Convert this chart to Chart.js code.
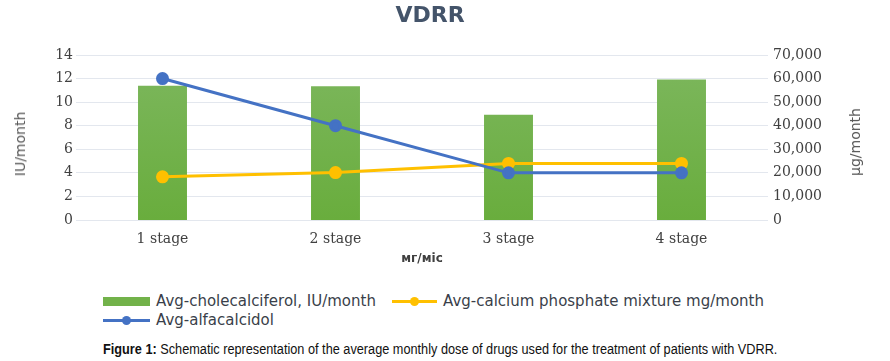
<!DOCTYPE html>
<html lang="en">
<head>
<meta charset="UTF-8">
<title>VDRR</title>
<script src="https://cdn.jsdelivr.net/npm/chart.js"></script>
<style>
  body { margin: 0; background: #fff; }
  #wrap { position: relative; width: 890px; height: 361px; overflow: hidden; }
  #chartBox { position: absolute; left: 0; top: 0; width: 890px; height: 268px; }
  #title { position: absolute; left: 330px; top: 2px; width: 200px; line-height: 26px; text-align: center;
           font: bold 22px "DejaVu Sans"; color: #44546a; }
  .axisTitle { position: absolute; transform: translate(-50%, -50%) rotate(-90deg);
               font: 14px "DejaVu Sans"; color: #595959; white-space: nowrap; }
  #leftTitle { left: 20px; top: 144px; }
  #rightTitle { left: 855px; top: 142px; }
  .legItem { position: absolute; height: 18px; }
  .legText { position: absolute; top: 0; line-height: 18px; font: 15px "DejaVu Sans"; color: #3a3f4a; white-space: nowrap; }
  #caption { position: absolute; left: 103px; top: 341px; line-height: 18px; font: 14px "Liberation Sans";
             color: #111; white-space: nowrap; transform-origin: left center; }
</style>
</head>
<body>
<div id="wrap">
  <div id="chartBox"><canvas id="vdrrChart"></canvas></div>
  <div id="title">VDRR</div>
  <div id="leftTitle" class="axisTitle">IU/month</div>
  <div id="rightTitle" class="axisTitle">µg/month</div>
  <div id="legend"></div>
  <div id="caption"><b>Figure 1:</b> Schematic representation of the average monthly dose of drugs used for the treatment of patients with VDRR.</div>
</div>
<script>
  // categories
  const stages = ['1 stage', '2 stage', '3 stage', '4 stage'];

  // series values
  const cholecalciferol = [57000, 56700, 44700, 59600];   // bars, right axis
  const calciumPhosphate = [18300, 20100, 24000, 24000];  // yellow line, right axis
  const alfacalcidol = [12, 8, 4, 4];                     // blue line, left axis

  // tick labels
  const leftTicks = [0, 2, 4, 6, 8, 10, 12, 14];
  const rightTicks = [0, 10000, 20000, 30000, 40000, 50000, 60000, 70000];

  const seriesNames = [
    'Avg-cholecalciferol, IU/month',
    'Avg-calcium phosphate mixture mg/month',
    'Avg-alfacalcidol'
  ];

  const green = '#72b24a';
  const yellow = '#ffc000';
  const blue = '#4472c4';

  function barGradient(context) {
    const chart = context.chart;
    const area = chart.chartArea;
    if (!area) return green;
    const g = chart.ctx.createLinearGradient(0, area.top, 0, area.bottom);
    g.addColorStop(0, '#7db75e');
    g.addColorStop(1, '#69ad3d');
    return g;
  }

  const tickFont = { family: 'DejaVu Serif', size: 14 };
  const tickColor = '#404040';

  const chart = new Chart(document.getElementById('vdrrChart'), {
    data: {
      labels: stages,
      datasets: [
        {
          type: 'bar',
          label: seriesNames[0],
          data: cholecalciferol,
          yAxisID: 'y1',
          backgroundColor: barGradient,
          barPercentage: 0.283,
          categoryPercentage: 1,
          order: 3
        },
        {
          type: 'line',
          label: seriesNames[1],
          data: calciumPhosphate,
          yAxisID: 'y1',
          borderColor: yellow,
          backgroundColor: yellow,
          borderWidth: 3,
          pointRadius: 5,
          pointHoverRadius: 5,
          tension: 0,
          order: 2
        },
        {
          type: 'line',
          label: seriesNames[2],
          data: alfacalcidol,
          yAxisID: 'y',
          borderColor: blue,
          backgroundColor: blue,
          borderWidth: 3,
          pointRadius: 5,
          pointHoverRadius: 5,
          tension: 0,
          order: 1
        }
      ]
    },
    options: {
      responsive: true,
      maintainAspectRatio: false,
      animation: false,
      layout: { padding: { top: 55, left: 0, right: 0, bottom: 0 } },
      plugins: {
        legend: { display: false },
        title: { display: false },
        tooltip: { enabled: false }
      },
      scales: {
        x: {
          grid: { display: false },
          border: { display: false },
          ticks: { font: tickFont, color: tickColor, padding: 3 },
          title: {
            display: true,
            text: 'мг/міс',
            font: { family: 'DejaVu Sans', size: 12, weight: 'bold' },
            color: '#404040',
            padding: { top: 0, bottom: 2 }
          },
          afterFit: s => { s.height = 48; }
        },
        y: {
          position: 'left',
          min: leftTicks[0],
          max: leftTicks[leftTicks.length - 1],
          ticks: { stepSize: leftTicks[1] - leftTicks[0], font: tickFont, color: tickColor, padding: 3 },
          grid: { color: '#e3e7ee', drawTicks: false },
          border: { display: false },
          afterFit: s => { s.width = 76; }
        },
        y1: {
          position: 'right',
          min: rightTicks[0],
          max: rightTicks[rightTicks.length - 1],
          ticks: { stepSize: rightTicks[1] - rightTicks[0], font: tickFont, color: tickColor, padding: 5 },
          grid: { display: false, drawTicks: false },
          border: { display: false },
          afterFit: s => { s.width = 122; }
        }
      }
    }
  });

  // legend built from the datasets, laid out like the original
  const legendSpots = [
    { x: 103, y: 301, w: 47 },
    { x: 392, y: 301, w: 45 },
    { x: 103, y: 320, w: 47 }
  ];
  const legend = document.getElementById('legend');
  chart.data.datasets.forEach((ds, i) => {
    const spot = legendSpots[i];
    const item = document.createElement('div');
    item.className = 'legItem';
    item.style.left = spot.x + 'px';
    item.style.top = (spot.y - 9) + 'px';
    const sw = document.createElement('div');
    sw.style.position = 'absolute';
    sw.style.left = '0px';
    if (ds.type === 'bar') {
      sw.style.top = '5px';
      sw.style.width = spot.w + 'px';
      sw.style.height = '9px';
      sw.style.background = green;
    } else {
      sw.style.top = '8px';
      sw.style.width = spot.w + 'px';
      sw.style.height = '3px';
      sw.style.background = ds.borderColor;
      const dot = document.createElement('div');
      dot.style.cssText = 'position:absolute;width:9px;height:9px;border-radius:50%;top:-3px;left:' +
        (spot.w / 2 - 4.5) + 'px;background:' + ds.borderColor;
      sw.appendChild(dot);
    }
    item.appendChild(sw);
    const txt = document.createElement('div');
    txt.className = 'legText';
    txt.style.left = (spot.w + 6) + 'px';
    txt.textContent = ds.label;
    item.appendChild(txt);
    legend.appendChild(item);
  });

  // squeeze the caption to the width it has in the figure
  const cap = document.getElementById('caption');
  cap.style.transform = 'scaleX(' + (674 / cap.offsetWidth) + ')';
</script>
</body>
</html>
